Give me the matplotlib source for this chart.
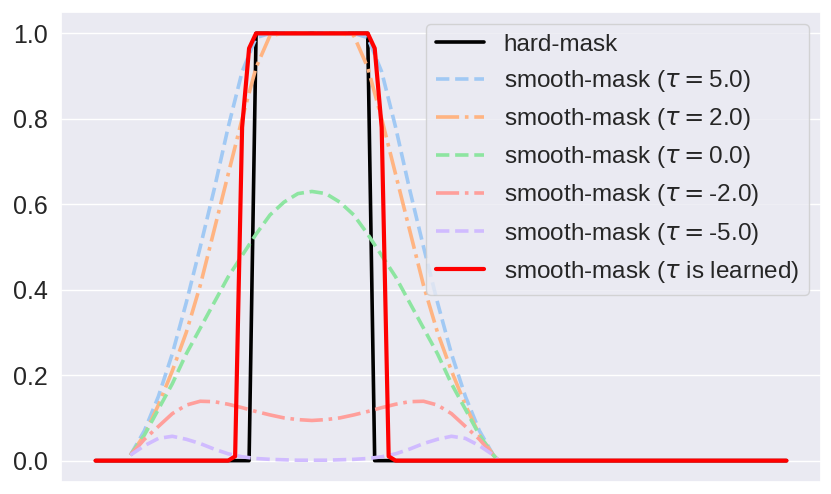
import numpy as np
import matplotlib
matplotlib.use('Agg')
import matplotlib.pyplot as plt
import seaborn as sns

sns.set_theme(style='darkgrid')
plt.rcParams['font.family'] = ['Liberation Sans', 'DejaVu Sans']

# position index of the mask (0..99)
x = np.arange(100)

# hard mask and learned-temperature mask on the full grid
hard_mask = [0.0] * 23 + [1.0] * 17 + [0.0] * 60
learned_mask = [0.0] * 20 + [0.01, 0.78, 0.965] + [1.0] * 17 + [0.965, 0.78, 0.01] + [0.0] * 57

# smooth masks are only drawn over the window
xs = [5, 7, 9, 11, 13, 15, 17, 19, 21, 23, 25, 27, 29, 31,
      33, 35, 37, 39, 41, 43, 45, 47, 49, 51, 53, 55, 57, 57.75]

tau_5 = [0.013, 0.07, 0.15, 0.25, 0.37, 0.50, 0.635, 0.78, 0.91, 0.99, 1.0, 1.0, 1.0, 1.0,
         1.0, 1.0, 1.0, 0.99, 0.91, 0.78, 0.635, 0.50, 0.37, 0.25, 0.15, 0.07, 0.013, 0.0]
tau_2 = [0.013, 0.06, 0.13, 0.21, 0.30, 0.41, 0.54, 0.67, 0.80, 0.92, 0.995, 1.0, 1.0, 1.0,
         1.0, 1.0, 0.995, 0.92, 0.80, 0.67, 0.54, 0.41, 0.30, 0.21, 0.13, 0.06, 0.013, 0.0]
tau_0 = [0.013, 0.06, 0.12, 0.18, 0.25, 0.31, 0.37, 0.43, 0.48, 0.53, 0.575, 0.605, 0.625, 0.63,
         0.625, 0.605, 0.575, 0.53, 0.48, 0.43, 0.37, 0.31, 0.25, 0.18, 0.12, 0.06, 0.013, 0.0]
tau_m2 = [0.013, 0.05, 0.08, 0.11, 0.13, 0.139, 0.138, 0.132, 0.124, 0.115, 0.107, 0.10, 0.096, 0.094,
          0.096, 0.10, 0.107, 0.115, 0.124, 0.132, 0.138, 0.139, 0.13, 0.11, 0.08, 0.05, 0.013, 0.0]
tau_m5 = [0.013, 0.035, 0.052, 0.057, 0.05, 0.04, 0.027, 0.016, 0.009, 0.005, 0.003, 0.002, 0.001, 0.001,
          0.001, 0.002, 0.003, 0.005, 0.009, 0.016, 0.027, 0.04, 0.05, 0.057, 0.052, 0.035, 0.013, 0.0]

pastel = sns.color_palette('pastel')

fig = plt.figure(figsize=(8.31, 4.94), dpi=100)
ax = fig.add_axes([61 / 831, 12 / 494, 760 / 831, 470 / 494])

lw = 2.6
ax.plot(x, hard_mask, color='black', lw=lw, label='hard-mask')
ax.plot(xs, tau_5, '--', color=pastel[0], lw=lw, label=r'smooth-mask ($\tau=$5.0)')
ax.plot(xs, tau_2, '-.', color=pastel[1], lw=lw, label=r'smooth-mask ($\tau=$2.0)')
ax.plot(xs, tau_0, '--', color=pastel[2], lw=lw, label=r'smooth-mask ($\tau=$0.0)')
ax.plot(xs, tau_m2, '-.', color=pastel[3], lw=lw, label=r'smooth-mask ($\tau=$-2.0)')
ax.plot(xs, tau_m5, '--', color=pastel[4], lw=lw, label=r'smooth-mask ($\tau=$-5.0)')
ax.plot(x, learned_mask, color='red', lw=3, label=r'smooth-mask ($\tau$ is learned)')

ax.set_xticks([])
ax.set_yticks([0.0, 0.2, 0.4, 0.6, 0.8, 1.0])
ax.tick_params(axis='y', labelsize=18)
ax.legend(loc='upper right', fontsize=17.5, labelspacing=0.5)

fig.savefig('out.png', dpi=100)
